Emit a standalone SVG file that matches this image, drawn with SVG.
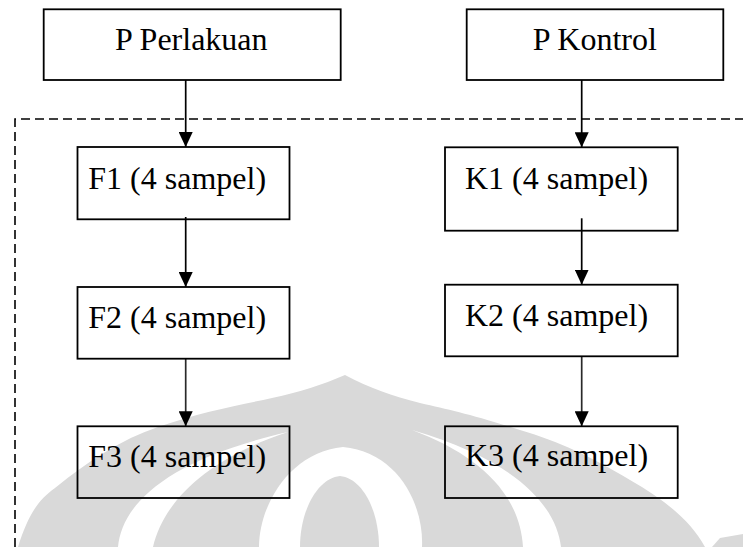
<svg xmlns="http://www.w3.org/2000/svg" width="743" height="547" viewBox="0 0 743 547">
<style>
.box{fill:none;stroke:#000;stroke-width:1.8}
.lbl{font-family:"Liberation Serif","Times New Roman",serif;font-size:32px;fill:#000}
.wm{fill:#d9d9d9}
.wh{fill:#fff}
.con{stroke:#000;stroke-width:1.7;fill:none;marker-end:url(#ah)}
.dash{stroke:#000;stroke-width:1.6;fill:none;stroke-dasharray:9 5}
</style>
<defs>
<marker id="ah" markerUnits="userSpaceOnUse" markerWidth="15" markerHeight="14" refX="15" refY="7" orient="auto">
<path d="M0,0 L15,7 L0,14 Z" fill="#000"/>
</marker>
</defs>
<g id="watermark">
<path class="wm" d="M18,547 C28,515 38,500 55,488 C90,460 120,440 158,427 C200,412 240,405 272,398 C300,392 322,385 345,375 C370,388 392,396 420,403 C450,410 470,414 520,430 C560,442 590,456 630,480 C665,500 690,520 705,547 Z"/>
<path class="wm" d="M712,547 L720,538 L743,534 L743,547 Z"/>
<path class="wh" d="M118,547 C122,505 165,460 288,432 C215,456 165,496 153,547 Z"/>
<path class="wh" d="M561,547 C556,505 515,460 412,430 C482,456 520,496 523,547 Z"/>
<path class="wh" d="M259,547 C259,505 290,452 343,447 C398,452 424,505 422,547 Z"/>
<path class="wm" d="M300,547 C300,510 318,478 340,476 C362,478 379,510 379,547 Z"/>
</g>
<g id="frame">
<path class="dash" d="M15,547 L15,119 L743,119"/>
</g>
<g id="connectors">
<line class="con" x1="185.7" y1="80" x2="185.7" y2="147"/>
<line class="con" x1="185.7" y1="217" x2="185.7" y2="287"/>
<line class="con" x1="185.7" y1="358.7" x2="185.7" y2="426.3" style="stroke:#2a2a2a"/>
<line class="con" x1="581.7" y1="80" x2="581.7" y2="147.3"/>
<line class="con" x1="581.7" y1="218.3" x2="581.7" y2="284.7"/>
<line class="con" x1="581.7" y1="356.3" x2="581.7" y2="426.3" style="stroke:#2a2a2a"/>
</g>
<g id="p-perlakuan">
<rect class="box" x="43.7" y="9.3" width="297" height="70.7"/>
<text class="lbl" x="115" y="50">P Perlakuan</text>
</g>
<g id="p-kontrol">
<rect class="box" x="466.7" y="9.3" width="256.6" height="70.7"/>
<text class="lbl" x="532.7" y="50">P Kontrol</text>
</g>
<g id="f1">
<rect class="box" x="77.5" y="147" width="212" height="72.3"/>
<text class="lbl" x="88.3" y="189">F1 (4 sampel)</text>
</g>
<g id="f2">
<rect class="box" x="77.5" y="287" width="212" height="71.7"/>
<text class="lbl" x="88.3" y="328">F2 (4 sampel)</text>
</g>
<g id="f3">
<rect class="box" x="77.5" y="426.3" width="212" height="71.7"/>
<text class="lbl" x="88.3" y="467">F3 (4 sampel)</text>
</g>
<g id="k1">
<rect class="box" x="445" y="147.3" width="232.7" height="83.4"/>
<text class="lbl" x="465" y="189">K1 (4 sampel)</text>
</g>
<g id="k2">
<rect class="box" x="445" y="284.7" width="232.7" height="71.6"/>
<text class="lbl" x="465" y="326.3">K2 (4 sampel)</text>
</g>
<g id="k3">
<rect class="box" x="445" y="426.3" width="232.7" height="71.7"/>
<text class="lbl" x="465" y="466.3">K3 (4 sampel)</text>
</g>
</svg>
